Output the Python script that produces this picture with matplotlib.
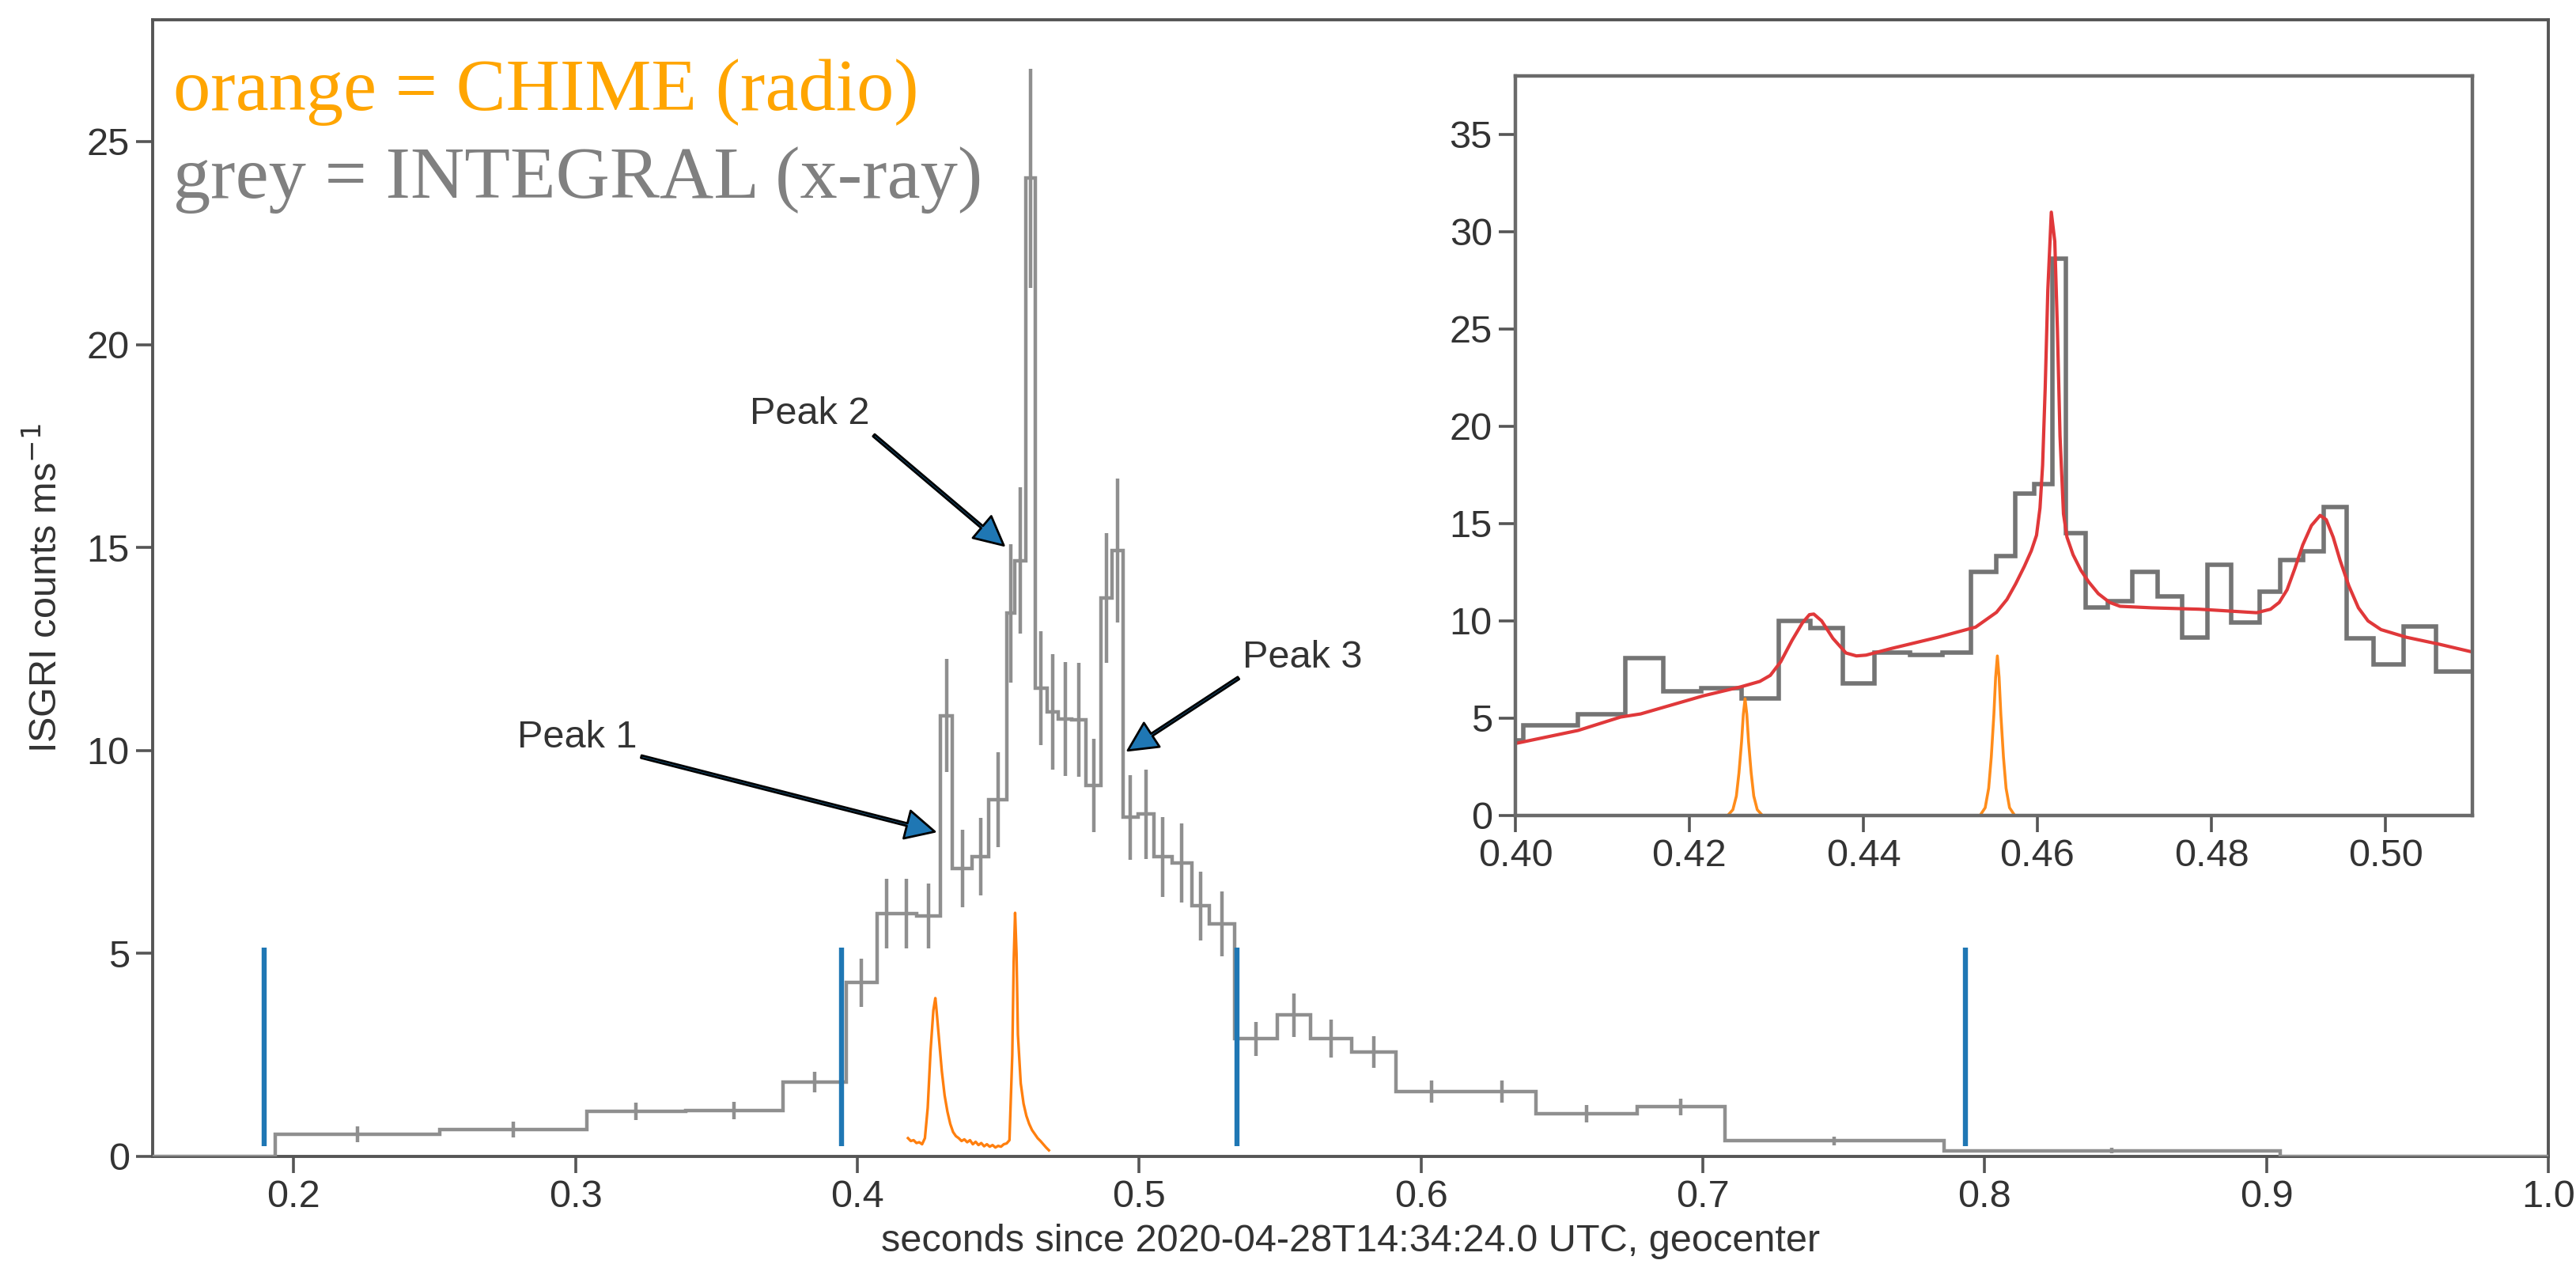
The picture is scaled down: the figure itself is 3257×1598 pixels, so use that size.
import numpy as np
import matplotlib
matplotlib.use("agg")
import matplotlib.pyplot as plt

# INTEGRAL (ISGRI) light curve, main panel
edges = [0.150, 0.1935, 0.2518, 0.3040, 0.3390, 0.3737, 0.3960, 0.4070, 0.4140, 0.4210,
         0.4294, 0.4338, 0.4408, 0.4467, 0.4531, 0.4558, 0.4598, 0.4631, 0.4673, 0.4712,
         0.4762, 0.4811, 0.4866, 0.4904, 0.4942, 0.4996, 0.5052, 0.5116, 0.5186, 0.5250,
         0.5340, 0.5489, 0.5607, 0.5753, 0.5912, 0.6163, 0.6409, 0.6767, 0.7078, 0.7856,
         0.9048, 1.0]
counts = [0, 0.545, 0.66, 1.11, 1.13, 1.83, 4.28, 5.98, 5.98, 5.92,
          10.86, 7.09, 7.38, 8.78, 13.38, 14.68, 24.1, 11.54, 10.95, 10.77,
          10.75, 9.13, 13.75, 14.93, 8.35, 8.43, 7.38, 7.23, 6.17, 5.73,
          2.90, 3.48, 2.90, 2.57, 1.6, 1.6, 1.05, 1.22, 0.38, 0.14, 0]
errs = [0, 0.2, 0.2, 0.22, 0.22, 0.26, 0.6, 0.85, 0.85, 0.8,
        1.4, 0.95, 0.95, 1.17, 1.7, 1.8, 2.7, 1.4, 1.42, 1.4,
        1.4, 1.15, 1.6, 1.77, 1.04, 1.1, 0.98, 0.98, 0.85, 0.8,
        0.42, 0.53, 0.47, 0.39, 0.28, 0.28, 0.21, 0.2, 0.1, 0.07, 0]

# CHIME radio profile, main panel
chime_t = [0.418, 0.419, 0.420, 0.421, 0.422, 0.423, 0.424, 0.425, 0.426, 0.427,
           0.4277, 0.428, 0.429, 0.430, 0.431, 0.432, 0.433, 0.434, 0.435, 0.436,
           0.437, 0.438, 0.439, 0.440, 0.441, 0.442, 0.443, 0.444, 0.445, 0.446,
           0.447, 0.448, 0.449, 0.450, 0.451, 0.452, 0.453, 0.454, 0.455, 0.4555,
           0.456, 0.4565, 0.457, 0.458, 0.459, 0.460, 0.461, 0.462, 0.463, 0.464,
           0.465, 0.466, 0.467, 0.468]
chime_f = [0.45, 0.38, 0.40, 0.33, 0.35, 0.30, 0.45, 1.2, 2.6, 3.6,
           3.9, 3.7, 2.9, 2.1, 1.5, 1.1, 0.8, 0.6, 0.5, 0.45,
           0.38, 0.42, 0.35, 0.40, 0.30, 0.36, 0.28, 0.33, 0.25, 0.30,
           0.24, 0.28, 0.22, 0.26, 0.24, 0.30, 0.32, 0.4, 2.5, 4.8,
           6.0, 5.0, 3.0, 1.8, 1.3, 1.0, 0.8, 0.65, 0.55, 0.45,
           0.38, 0.3, 0.22, 0.15]

# burst window markers
window_t = [0.1897, 0.3943, 0.5346, 0.7932]

# inset: finer light curve, model fit, radio pulses
in_edges = [0.3975, 0.4009, 0.4072, 0.4126, 0.4170, 0.4214, 0.4260, 0.4303, 0.4339, 0.4376,
            0.4413, 0.4454, 0.4491, 0.4524, 0.4553, 0.4575, 0.4596, 0.4617, 0.4633, 0.4655,
            0.4681, 0.4709, 0.4738, 0.4766, 0.4795, 0.4823, 0.4855, 0.4879, 0.4905, 0.4929,
            0.4955, 0.4986, 0.5021, 0.5058, 0.5130]
in_counts = [3.87, 4.63, 5.2, 8.08, 6.37, 6.54, 6.0, 9.99, 9.65, 6.77,
             8.36, 8.27, 8.36, 12.53, 13.32, 16.56, 17.02, 28.62, 14.52, 10.68,
             11.01, 12.53, 11.25, 9.15, 12.88, 9.9, 11.49, 13.12, 13.57, 15.84,
             9.12, 7.78, 9.7, 7.38]

fit_t = [0.4000, 0.4072, 0.4121, 0.4144, 0.4216, 0.4259, 0.4281, 0.4293, 0.4305, 0.4318,
         0.4330, 0.4338, 0.4343, 0.4352, 0.4365, 0.4380, 0.4392, 0.4403, 0.4432, 0.4486,
         0.4529, 0.4553, 0.4565, 0.4575, 0.4585, 0.4593, 0.4599, 0.4603, 0.4606, 0.4609,
         0.4612, 0.4616, 0.4620, 0.4623, 0.4626, 0.4630, 0.4634, 0.4641, 0.4650, 0.4659,
         0.4670, 0.4683, 0.4695, 0.4732, 0.4786, 0.4852, 0.4868, 0.4878, 0.4887, 0.4896,
         0.4905, 0.4915, 0.4925, 0.4932, 0.4940, 0.4948, 0.4958, 0.4969, 0.4980, 0.4995,
         0.5024, 0.5061, 0.5100]
fit_f = [3.70, 4.37, 5.06, 5.22, 6.15, 6.61, 6.89, 7.2, 7.9, 9.0,
         9.9, 10.32, 10.35, 10.0, 9.1, 8.35, 8.2, 8.24, 8.58, 9.16,
         9.68, 10.44, 11.1, 11.9, 12.8, 13.6, 14.4, 15.8, 18.0, 22.0,
         27.0, 31.0, 29.5, 25.0, 19.5, 15.5, 14.3, 13.4, 12.6, 12.0,
         11.4, 10.95, 10.75, 10.67, 10.6, 10.42, 10.6, 10.95, 11.6, 12.7,
         13.9, 14.9, 15.42, 15.2, 14.3, 13.1, 11.8, 10.67, 10.0, 9.55,
         9.16, 8.81, 8.40]

pulse1_t = [0.4244, 0.4250, 0.4254, 0.4257, 0.4260, 0.4262, 0.4264, 0.4266, 0.4268, 0.4271,
            0.4274, 0.4278, 0.4284]
pulse1_f = [0.0, 0.3, 1.0, 2.2, 3.8, 5.2, 6.0, 5.2, 3.8, 2.2, 1.0, 0.3, 0.0]
pulse2_t = [0.4534, 0.4540, 0.4544, 0.4547, 0.4550, 0.4552, 0.4554, 0.4556, 0.4558, 0.4561,
            0.4564, 0.4568, 0.4574]
pulse2_f = [0.0, 0.4, 1.4, 3.0, 5.2, 7.1, 8.2, 7.1, 5.2, 3.0, 1.4, 0.4, 0.0]

peak_names = ["Peak 1", "Peak 2", "Peak 3"]
peak_tips = [(0.4275, 8.0), (0.452, 15.05), (0.496, 10.0)]
peak_text = [(0.2793, 10.07), (0.3618, 18.05), (0.5368, 12.05)]

plt.rcParams['font.family'] = ['Liberation Sans', 'DejaVu Sans']
plt.rcParams['font.size'] = 17.5
plt.rcParams['text.color'] = '#333333'
plt.rcParams['axes.labelcolor'] = '#333333'
plt.rcParams['xtick.color'] = '#555555'
plt.rcParams['ytick.color'] = '#555555'
plt.rcParams['xtick.labelcolor'] = '#333333'
plt.rcParams['ytick.labelcolor'] = '#333333'

fig = plt.figure(figsize=(16.285, 7.99), dpi=200)
ax = fig.add_axes([0.05926, 0.08511, 0.93000, 0.89925])

grey_main = '#8f8f8f'
ax.stairs(counts, edges, baseline=None, color=grey_main, lw=1.6, zorder=3)
centers = [(a + b) / 2 for a, b in zip(edges[:-1], edges[1:])]
pts = [(c, v, e) for c, v, e in zip(centers, counts, errs) if e > 0]
ax.errorbar([p[0] for p in pts], [p[1] for p in pts], yerr=[p[2] for p in pts],
            fmt='none', ecolor=grey_main, elinewidth=1.6, zorder=3)
ax.plot(chime_t, chime_f, color='#ff7f0e', lw=1.2, zorder=4)
ax.vlines(window_t, 0.25, 5.15, color='#1f77b4', lw=2.3, zorder=5)

for name, tip, pos in zip(peak_names, peak_tips, peak_text):
    ax.annotate(name, xy=tip, xytext=pos, fontsize=17.5, color='#333333',
                arrowprops=dict(facecolor='#1f77b4', edgecolor='black', width=1.2,
                                headwidth=13, headlength=13, shrink=0.0, lw=1.0),
                zorder=6)

ax.text(0.0086, 0.921, "orange = CHIME (radio)", transform=ax.transAxes,
        family='Liberation Serif', fontsize=34, color='#FFA500', va='baseline')
ax.text(0.0086, 0.8434, "grey = INTEGRAL (x-ray)", transform=ax.transAxes,
        family='Liberation Serif', fontsize=34, color='#808080', va='baseline')

ax.set_xlim(0.15, 1.0)
ax.set_ylim(0, 28)
ax.set_xticks(np.arange(0.2, 1.01, 0.1))
ax.set_xticklabels(["0.2", "0.3", "0.4", "0.5", "0.6", "0.7", "0.8", "0.9", "1.0"])
ax.set_yticks([0, 5, 10, 15, 20, 25])
ax.set_xlabel("seconds since 2020-04-28T14:34:24.0 UTC, geocenter", labelpad=4)
ax.set_ylabel("ISGRI counts ms$^{-1}$", labelpad=10)
ax.tick_params(direction='out', length=7.5, width=1.3, pad=3)
for s in ax.spines.values():
    s.set_color('#555555')
    s.set_linewidth(1.4)

# inset
ins = fig.add_axes([0.58827, 0.35482, 0.37151, 0.58511])
ins.set_facecolor('white')
ins.stairs(in_counts, in_edges, baseline=None, color='#747474', lw=2.0)
ins.plot(fit_t, fit_f, color='#e0383a', lw=1.5)
ins.plot(pulse1_t, pulse1_f, color='#ff8c1a', lw=1.3)
ins.plot(pulse2_t, pulse2_f, color='#ff8c1a', lw=1.3)
ins.set_xlim(0.40, 0.51)
ins.set_ylim(0, 38)
ins.set_xticks([0.40, 0.42, 0.44, 0.46, 0.48, 0.50])
ins.set_xticklabels(["0.40", "0.42", "0.44", "0.46", "0.48", "0.50"])
ins.set_yticks([0, 5, 10, 15, 20, 25, 30, 35])
ins.tick_params(direction='out', length=7.5, width=1.3, pad=3)
for s in ins.spines.values():
    s.set_color('#6a6a6a')
    s.set_linewidth(1.6)

fig.savefig("out.png", dpi=200)
